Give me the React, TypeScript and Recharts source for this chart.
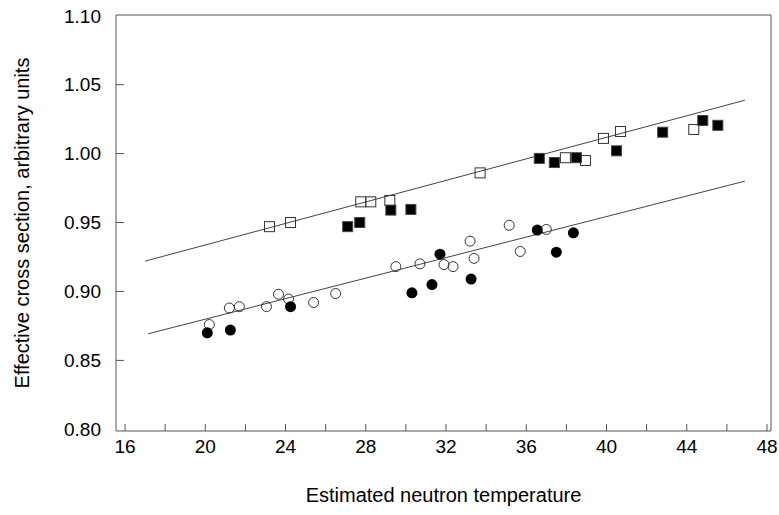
import React from 'react';
import { ScatterChart, Scatter, XAxis, YAxis, ReferenceLine, Label } from 'recharts';

const X_DOMAIN: [number, number] = [15.55, 48.2];
const Y_DOMAIN: [number, number] = [0.7988, 1.1005];
const X_TICKS = [16, 18, 20, 22, 24, 26, 28, 30, 32, 34, 36, 38, 40, 42, 44, 46, 48];
const Y_TICKS = [0.8, 0.85, 0.9, 0.95, 1.0, 1.05, 1.1];

// open squares
const openSqTemp = [23.2, 24.25, 27.75, 28.25, 29.2, 33.7, 37.95, 38.95, 39.85, 40.7, 44.35];
const openSqSigma = [0.947, 0.95, 0.965, 0.965, 0.966, 0.986, 0.997, 0.995, 1.011, 1.016, 1.0175];

// filled squares
const fillSqTemp = [27.1, 27.7, 29.25, 30.25, 36.65, 37.4, 38.5, 40.5, 42.8, 44.8, 45.55];
const fillSqSigma = [0.947, 0.95, 0.959, 0.9595, 0.9965, 0.9935, 0.997, 1.002, 1.0155, 1.024, 1.0205];

// open circles
const openCircTemp = [20.2, 21.2, 21.7, 23.05, 23.65, 24.15, 25.4, 26.5, 29.5, 30.7, 31.9, 32.35, 33.2, 33.4, 35.15, 35.7, 37.0];
const openCircSigma = [0.876, 0.888, 0.889, 0.889, 0.898, 0.8945, 0.892, 0.8985, 0.918, 0.92, 0.9195, 0.918, 0.9365, 0.924, 0.948, 0.929, 0.945];

// filled circles
const fillCircTemp = [20.1, 21.25, 24.25, 30.3, 31.3, 31.7, 33.25, 36.55, 37.5, 38.35];
const fillCircSigma = [0.87, 0.872, 0.889, 0.899, 0.905, 0.927, 0.909, 0.9445, 0.9285, 0.9425];

// fitted lines
const upperFitTemp = [17.0, 46.9];
const upperFitSigma = [0.922, 1.0387];
const lowerFitTemp = [17.15, 46.9];
const lowerFitSigma = [0.8693, 0.98];

const zip = (xs: number[], ys: number[]) => xs.map((x, i) => ({ x, y: ys[i] }));

const AXIS = '#555';
const FONT = '"Liberation Sans", Arial, sans-serif';
const Y_GAP = 15;
const X_GAP = 9;

const YTick = (props: any) => {
  const { x, y, payload } = props;
  const v = payload.value as number;
  const edge = v <= Y_TICKS[0] || v >= Y_TICKS[Y_TICKS.length - 1];
  return (
    <g>
      {!edge && <line x1={x + Y_GAP} y1={y} x2={x + Y_GAP + 8} y2={y} stroke={AXIS} />}
      <text x={x} y={y} dy="0.36em" textAnchor="end" fontSize={19} fontFamily={FONT} fill="#000">
        {v.toFixed(2)}
      </text>
    </g>
  );
};

const XTick = (props: any) => {
  const { x, y, payload } = props;
  const v = Math.round(payload.value);
  return (
    <g>
      <line x1={x} y1={y - X_GAP} x2={x} y2={y - X_GAP - 7} stroke={AXIS} />
      {v % 4 === 0 && (
        <text x={x} y={y} dy="0.71em" textAnchor="middle" fontSize={19} fontFamily={FONT} fill="#000">
          {v}
        </text>
      )}
    </g>
  );
};

const OpenSquare = (p: any) => (
  <rect x={p.cx - 5} y={p.cy - 5} width={10} height={10} fill="none" stroke="#333" strokeWidth={1} />
);
const FilledSquare = (p: any) => (
  <rect x={p.cx - 5} y={p.cy - 5} width={10} height={10} fill="#000" stroke="#444" strokeWidth={1} />
);
const OpenCircle = (p: any) => <circle cx={p.cx} cy={p.cy} r={5} fill="none" stroke="#333" strokeWidth={1} />;
const FilledCircle = (p: any) => <circle cx={p.cx} cy={p.cy} r={5.5} fill="#000" />;
const NoDot = () => <g />;

export default function App() {
  return (
    <div style={{ position: 'absolute', left: 0, top: 0, background: '#fff' }}>
      <ScatterChart width={779} height={515} margin={{ top: 15, right: 8, bottom: 0, left: 0 }}>
        <XAxis
          type="number"
          dataKey="x"
          domain={X_DOMAIN}
          ticks={X_TICKS}
          interval={0}
          allowDataOverflow
          height={84}
          tickSize={0}
          tickMargin={X_GAP}
          tick={<XTick />}
          axisLine={{ stroke: AXIS }}
        >
          <Label
            value="Estimated neutron temperature"
            position="insideBottom"
            offset={13}
            style={{ fontSize: 20, fontFamily: FONT, fill: '#000' }}
          />
        </XAxis>
        <YAxis
          type="number"
          dataKey="y"
          domain={Y_DOMAIN}
          ticks={Y_TICKS}
          interval={0}
          allowDataOverflow
          width={116}
          tickSize={0}
          tickMargin={Y_GAP}
          tick={<YTick />}
          axisLine={{ stroke: AXIS }}
        >
          <Label
            value="Effective cross section, arbitrary units"
            angle={-90}
            position="insideLeft"
            offset={22}
            style={{ fontSize: 20, fontFamily: FONT, fill: '#000', textAnchor: 'middle' }}
          />
        </YAxis>
        <ReferenceLine y={Y_DOMAIN[1]} stroke={AXIS} ifOverflow="visible" />
        <ReferenceLine x={X_DOMAIN[1]} stroke={AXIS} ifOverflow="visible" />
        <Scatter data={zip(upperFitTemp, upperFitSigma)} line={{ stroke: '#444', strokeWidth: 1 }} shape={NoDot} isAnimationActive={false} />
        <Scatter data={zip(lowerFitTemp, lowerFitSigma)} line={{ stroke: '#444', strokeWidth: 1 }} shape={NoDot} isAnimationActive={false} />
        <Scatter data={zip(openSqTemp, openSqSigma)} shape={OpenSquare} isAnimationActive={false} />
        <Scatter data={zip(fillSqTemp, fillSqSigma)} shape={FilledSquare} isAnimationActive={false} />
        <Scatter data={zip(openCircTemp, openCircSigma)} shape={OpenCircle} isAnimationActive={false} />
        <Scatter data={zip(fillCircTemp, fillCircSigma)} shape={FilledCircle} isAnimationActive={false} />
      </ScatterChart>
    </div>
  );
}
